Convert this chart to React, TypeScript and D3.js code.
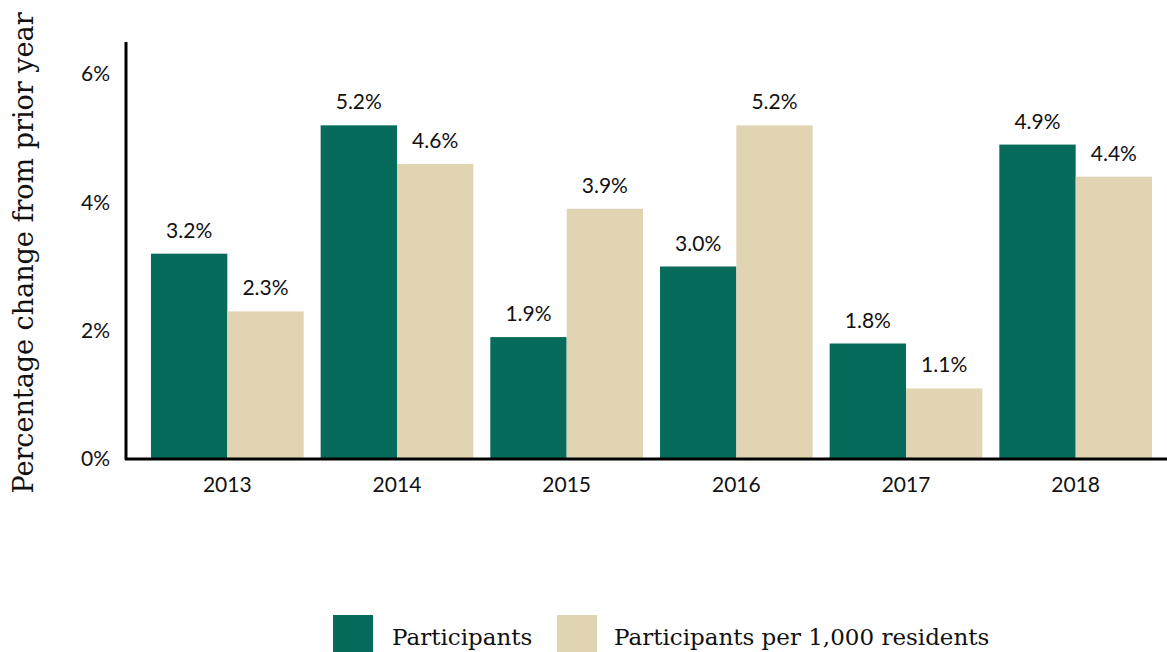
import React from "react";
import * as d3 from "d3";

const years = ["2013", "2014", "2015", "2016", "2017", "2018"];
const participants = [3.2, 5.2, 1.9, 3.0, 1.8, 4.9];
const perThousand = [2.3, 4.6, 3.9, 5.2, 1.1, 4.4];
const seriesNames = ["Participants", "Participants per 1,000 residents"];
const colors = ["#066b5b", "#e0d4b3"];
const yTicks = [0, 2, 4, 6];

const W = 1167;
const H = 652;
const axisX = 126;
const baseY = 459;

export default function App() {
  const y = d3.scaleLinear().domain([0, 6]).range([baseY, 74]);
  const x0 = d3.scaleBand<string>().domain(years).range([134, 1169]).padding(0.1);
  const x1 = d3.scaleBand<string>().domain(["a", "b"]).range([0, x0.bandwidth()]);
  const sansFont = "Lato, 'Open Sans', sans-serif";
  const serifFont = "'DejaVu Serif', 'Liberation Serif', serif";
  const series = [participants, perThousand];
  return (
    <svg width={W} height={H} style={{ position: "absolute", left: 0, top: 0, background: "#fff" }}>
      {years.map((yr, i) =>
        series.map((s, j) => {
          const xx = (x0(yr) as number) + (x1(j === 0 ? "a" : "b") as number);
          return (
            <g key={yr + j}>
              <rect x={xx} y={y(s[i])} width={x1.bandwidth()} height={baseY - y(s[i])} fill={colors[j]} />
              <text x={xx + x1.bandwidth() / 2} y={y(s[i]) - 16} textAnchor="middle" fontFamily={sansFont} fontSize={21} fill="#111">
                {s[i].toFixed(1) + "%"}
              </text>
            </g>
          );
        })
      )}
      <line x1={axisX} x2={axisX} y1={42} y2={baseY + 1} stroke="#000" strokeWidth={3} />
      <line x1={axisX - 1} x2={W} y1={baseY} y2={baseY} stroke="#000" strokeWidth={3} />
      {yTicks.map((t) => (
        <text key={t} x={110} y={y(t)} dy="0.35em" textAnchor="end" fontFamily={sansFont} fontSize={21} fill="#111">
          {t + "%"}
        </text>
      ))}
      {years.map((yr) => (
        <text key={yr} x={(x0(yr) as number) + x0.bandwidth() / 2} y={492} textAnchor="middle" fontFamily={sansFont} fontSize={21} fill="#111">
          {yr}
        </text>
      ))}
      <text transform={`translate(33,${253}) rotate(-90)`} textAnchor="middle" fontFamily={serifFont} fontSize={27} fill="#111">
        Percentage change from prior year
      </text>
      <rect x={333} y={615} width={40} height={40} fill={colors[0]} />
      <text x={392} y={645} fontFamily={serifFont} fontSize={23} fill="#111">{seriesNames[0]}</text>
      <rect x={557} y={615} width={40} height={40} fill={colors[1]} />
      <text x={614} y={645} fontFamily={serifFont} fontSize={23} fill="#111">{seriesNames[1]}</text>
    </svg>
  );
}
